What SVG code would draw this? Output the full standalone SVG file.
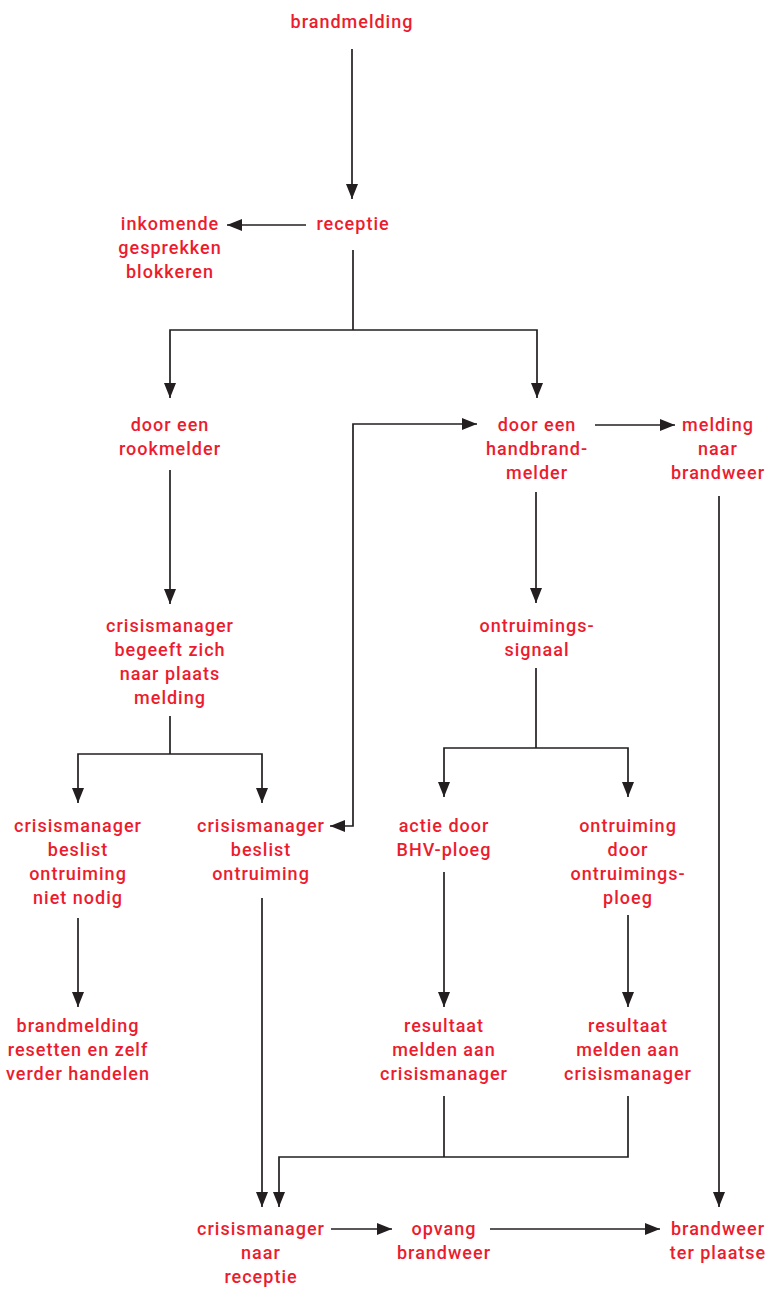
<svg xmlns="http://www.w3.org/2000/svg" width="770" height="1289" viewBox="0 0 770 1289">
<style>
.t{font-family:Roboto,"Liberation Sans",sans-serif;font-weight:500;font-size:18px;letter-spacing:1px;fill:#ec1c2e;text-anchor:middle}
.c path{fill:none;stroke:#231f20;stroke-width:1.7}
.e{marker-end:url(#ah)}
.b{marker-start:url(#ah);marker-end:url(#ah)}
.s{marker-start:url(#ah)}
</style>
<defs>
<marker id="ah" viewBox="0 0 15 12" refX="15" refY="6" markerWidth="15" markerHeight="12" markerUnits="userSpaceOnUse" orient="auto-start-reverse">
<path d="M0,0 L15,6 L0,12 z" fill="#231f20"/>
</marker>
</defs>
<rect width="770" height="1289" fill="#fff"/>
<g class="c" id="connectors">
<path class="e" d="M352,49 V199"/>
<path class="e" d="M306,225 H227"/>
<path d="M353,250 V330"/>
<path class="b" d="M170,398 V330 H537 V398"/>
<path class="e" d="M595,425 H675"/>
<path class="b" d="M330,826 H353 V424 H477"/>
<path class="e" d="M170,470 V604"/>
<path class="e" d="M536,492 V603"/>
<path d="M170,716 V754"/>
<path class="b" d="M78,803 V754 H262 V803"/>
<path d="M536,668 V748"/>
<path class="b" d="M444,797 V748 H628 V797"/>
<path class="e" d="M78,918 V1007"/>
<path class="e" d="M444,872 V1007"/>
<path class="e" d="M628,915 V1007"/>
<path class="e" d="M262,898 V1207"/>
<path d="M444,1096 V1157"/>
<path class="s" d="M279,1207 V1157 H628 V1096"/>
<path class="e" d="M331,1229 H392"/>
<path class="e" d="M490,1229 H660"/>
<path class="e" d="M719,496 V1207"/>
</g>
<g id="n-brandmelding"><text class="t" x="352" y="28">brandmelding</text></g>
<g id="n-receptie"><text class="t" x="353" y="230">receptie</text></g>
<g id="n-inkomende"><text class="t" x="170" y="230">inkomende</text><text class="t" x="170" y="254">gesprekken</text><text class="t" x="170" y="278">blokkeren</text></g>
<g id="n-rookmelder"><text class="t" x="170" y="431">door een</text><text class="t" x="170" y="455">rookmelder</text></g>
<g id="n-handbrandmelder"><text class="t" x="537" y="431">door een</text><text class="t" x="537" y="455">handbrand-</text><text class="t" x="537" y="479">melder</text></g>
<g id="n-melding-brandweer"><text class="t" x="718" y="431">melding</text><text class="t" x="718" y="455">naar</text><text class="t" x="718" y="479">brandweer</text></g>
<g id="n-begeeft"><text class="t" x="170" y="632">crisismanager</text><text class="t" x="170" y="656">begeeft zich</text><text class="t" x="170" y="680">naar plaats</text><text class="t" x="170" y="704">melding</text></g>
<g id="n-signaal"><text class="t" x="537" y="632">ontruimings-</text><text class="t" x="537" y="656">signaal</text></g>
<g id="n-niet-nodig"><text class="t" x="78" y="832">crisismanager</text><text class="t" x="78" y="856">beslist</text><text class="t" x="78" y="880">ontruiming</text><text class="t" x="78" y="904">niet nodig</text></g>
<g id="n-beslist"><text class="t" x="261" y="832">crisismanager</text><text class="t" x="261" y="856">beslist</text><text class="t" x="261" y="880">ontruiming</text></g>
<g id="n-bhv"><text class="t" x="444" y="832">actie door</text><text class="t" x="444" y="856">BHV-ploeg</text></g>
<g id="n-ontruimingsploeg"><text class="t" x="628" y="832">ontruiming</text><text class="t" x="628" y="856">door</text><text class="t" x="628" y="880">ontruimings-</text><text class="t" x="628" y="904">ploeg</text></g>
<g id="n-resetten"><text class="t" x="78" y="1032">brandmelding</text><text class="t" x="78" y="1056">resetten en zelf</text><text class="t" x="78" y="1080">verder handelen</text></g>
<g id="n-resultaat1"><text class="t" x="444" y="1032">resultaat</text><text class="t" x="444" y="1056">melden aan</text><text class="t" x="444" y="1080">crisismanager</text></g>
<g id="n-resultaat2"><text class="t" x="628" y="1032">resultaat</text><text class="t" x="628" y="1056">melden aan</text><text class="t" x="628" y="1080">crisismanager</text></g>
<g id="n-naar-receptie"><text class="t" x="261" y="1235">crisismanager</text><text class="t" x="261" y="1259">naar</text><text class="t" x="261" y="1283">receptie</text></g>
<g id="n-opvang"><text class="t" x="444" y="1235">opvang</text><text class="t" x="444" y="1259">brandweer</text></g>
<g id="n-ter-plaatse"><text class="t" x="718" y="1235">brandweer</text><text class="t" x="718" y="1259">ter plaatse</text></g>
</svg>
